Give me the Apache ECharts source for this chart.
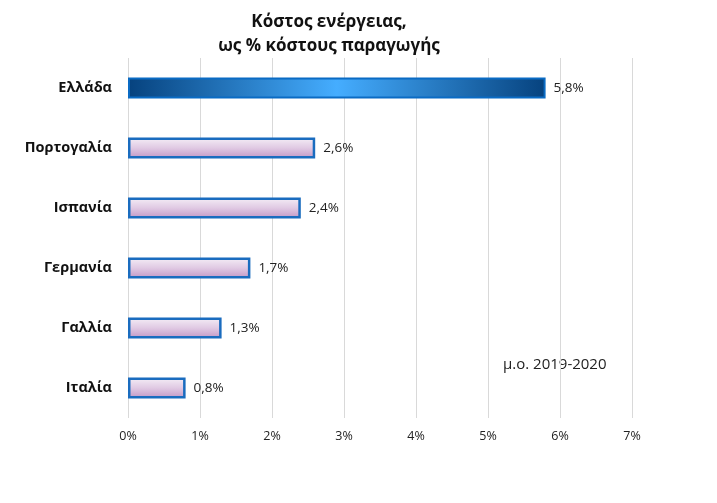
<!DOCTYPE html>
<html><head><meta charset="utf-8">
<script src="https://cdn.jsdelivr.net/npm/echarts@6/dist/echarts.min.js"></script>
<style>html,body{margin:0;padding:0;background:#fff}#c{width:717px;height:503px}</style>
</head><body><div id="c"></div>
<script>
const categories = ['Ιταλία','Γαλλία','Γερμανία','Ισπανία','Πορτογαλία','Ελλάδα'];
const values = [0.8, 1.3, 1.7, 2.4, 2.6, 5.8];
const tickLabels = ['0%','1%','2%','3%','4%','5%','6%','7%'];
const titleText = 'Κόστος ενέργειας,\nως % κόστους παραγωγής';
const noteText = 'μ.ο. 2019-2020';

const FONT = '"Open Sans", "Liberation Sans", sans-serif';
const pinkStyle = {
  color: {type:'linear', x:0, y:0, x2:0, y2:1, colorStops:[
    {offset:0, color:'#f5eff7'}, {offset:0.5, color:'#e0c9e3'}, {offset:1, color:'#c196c5'}]},
  borderColor:'#1a6cbf', borderWidth:2.5
};
const greekStyle = {
  color: {type:'linear', x:0, y:0, x2:1, y2:0, colorStops:[
    {offset:0, color:'#06427e'}, {offset:0.5, color:'#45adff'}, {offset:1, color:'#06427e'}]},
  borderColor:'#0a6bc4', borderWidth:2
};
const data = values.map((v,i)=>({value:v, itemStyle: categories[i]==='Ελλάδα'? greekStyle : pinkStyle}));

const chart = echarts.init(document.getElementById('c'));
chart.setOption({
  backgroundColor:'#fff',
  animation:false,
  title:{text:titleText, left:324, top:5, textAlign:'center',
    textStyle:{fontFamily:FONT, fontSize:17, fontWeight:'bold', color:'#111', lineHeight:24}},
  grid:{left:128, right:85, top:58, bottom:85},
  xAxis:{type:'value', min:0, max:7, interval:1,
    axisLabel:{formatter:(v)=>tickLabels[v], fontFamily:FONT, fontSize:12.5, color:'#222', margin:12},
    splitLine:{show:true, lineStyle:{color:'#d9d9d9', width:1}},
    axisLine:{show:false}, axisTick:{show:false}},
  yAxis:{type:'category', data:categories,
    axisLabel:{fontFamily:FONT, fontSize:14.5, fontWeight:'bold', color:'#111', margin:16},
    axisLine:{show:false}, axisTick:{show:false}},
  series:[{type:'bar', data:data, barWidth:21,
    label:{show:true, position:'right', distance:8, formatter:(p)=>p.value.toFixed(1).replace('.',',')+'%',
      fontFamily:FONT, fontSize:13.5, color:'#222'}}],
  graphic:[{type:'text', left:503, top:357, style:{text:noteText, font:'15px '+FONT, fill:'#222'}}]
});
</script></body></html>
